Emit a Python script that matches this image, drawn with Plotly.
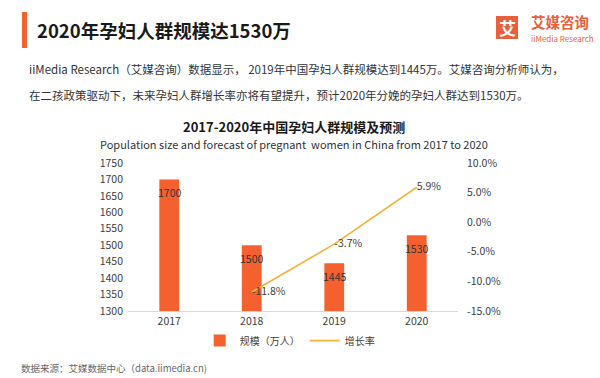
import plotly.graph_objects as go

years = ["2017", "2018", "2019", "2020"]
scale_values = [1700, 1500, 1445, 1530]
growth_years = ["2018", "2019", "2020"]
growth_rates = [-11.8, -3.7, 5.9]
left_ticks = [1300, 1350, 1400, 1450, 1500, 1550, 1600, 1650, 1700, 1750]
right_ticks = [-15, -10, -5, 0, 5, 10]

BAR = "#F4612E"
LINE = "#F2B336"
CJK = "Noto Sans CJK SC"

fig = go.Figure()
fig.add_trace(go.Bar(
    x=years, y=scale_values, name="规模（万人）",
    marker=dict(color=BAR, line=dict(width=0)), width=0.24,
))
fig.add_trace(go.Scatter(
    x=growth_years, y=growth_rates, name="增长率", yaxis="y2",
    mode="lines+text", line=dict(color=LINE, width=1.6),
    text=[f"{v:.1f}%" for v in growth_rates], textposition="middle right",
    textfont=dict(family=CJK, size=10.5, color="#404040"),
    cliponaxis=False,
))

fig.update_layout(
    width=600, height=378,
    margin=dict(l=128, r=142, t=163, b=67),
    paper_bgcolor="white", plot_bgcolor="white",
    font=dict(family=CJK, color="#595959", size=10.5),
    showlegend=True,
    legend=dict(orientation="h", x=0.49, xanchor="center", y=-0.2, yanchor="middle",
                font=dict(family=CJK, size=10, color="#404040"),
                itemwidth=30, tracegroupgap=0),
    bargap=0.5,
    xaxis=dict(type="category", range=[-0.5, len(years) - 0.5], showgrid=False,
               showline=True, linecolor="#D9D9D9",
               linewidth=1, ticks="", tickfont=dict(size=10.5, color="#404040")),
    yaxis=dict(range=[1300, 1750], tickvals=left_ticks, showgrid=False, zeroline=False,
               showline=False, ticks="", ticklabelstandoff=4,
               tickfont=dict(size=10.5, color="#404040")),
    yaxis2=dict(range=[-15, 10], tickvals=right_ticks,
                ticktext=[f"{v:.1f}%" for v in right_ticks],
                overlaying="y", side="right", showgrid=False, zeroline=False,
                showline=False, ticks="", ticklabelstandoff=8,
                tickfont=dict(size=10.5, color="#404040")),
)

ann = []
# bar value labels (data coordinates: category index, bar value)
for i, v in enumerate(scale_values):
    ann.append(dict(xref="x", yref="y", x=i, y=v, text=str(v), showarrow=False,
                    yanchor="top", yshift=-4,
                    font=dict(size=10.5, color="#333333", family=CJK)))

def text(x, y, s, size, color="#222222", bold=False, xanchor="left", family=CJK):
    if bold:
        s = f"<b>{s}</b>"
    ann.append(dict(xref="paper", yref="paper", x=x, y=y, text=s, showarrow=False,
                    xanchor=xanchor, yanchor="middle",
                    font=dict(size=size, color=color, family=family)))

pl, pr, pt, pb = 128, 458, 163, 311
def px(x):
    return (x - pl) / (pr - pl)
def py(y):
    return (pb - y) / (pb - pt)

text(px(35), py(30), "2020年孕妇人群规模达1530万", 18.5, "#1a1a1a", bold=True)
text(px(27), py(69), "iiMedia Research（艾媒咨询）数据显示， 2019年中国孕妇人群规模达到1445万。艾媒咨询分析师认为，", 11.5, "#333333")
text(px(27), py(95), "在二孩政策驱动下，未来孕妇人群增长率亦将有望提升，预计2020年分娩的孕妇人群达到1530万。", 11.5, "#333333")
text(px(294), py(126), "2017-2020年中国孕妇人群规模及预测", 13, "#1a1a1a", bold=True, xanchor="center")
text(px(294), py(144), "Population size and forecast of pregnant  women in China from 2017 to 2020", 11, "#333333", xanchor="center")
text(px(19), py(368), "数据来源：艾媒数据中心（data.iimedia.cn)", 9.5, "#666666")
# logo
text(px(529), py(21), "艾媒咨询", 14.5, "#E8603C", bold=True)
text(px(529), py(38), "iiMedia Research", 8, "#E8603C")
text(px(507), py(27.5), "艾", 17, "white", bold=True, xanchor="center")

fig.update_layout(annotations=ann)

shapes = [
    dict(type="rect", xref="paper", yref="paper", x0=px(22), x1=px(27), y0=py(12), y1=py(48),
         fillcolor=BAR, line=dict(width=0)),
    dict(type="rect", xref="paper", yref="paper", x0=px(496), x1=px(518), y0=py(16), y1=py(39),
         fillcolor="#E8603C", line=dict(width=0)),
]
fig.update_layout(shapes=shapes)

fig.write_html("out.html", config={"displayModeBar": False},
               post_script="document.body.style.margin='0';document.body.style.overflow='hidden';")
